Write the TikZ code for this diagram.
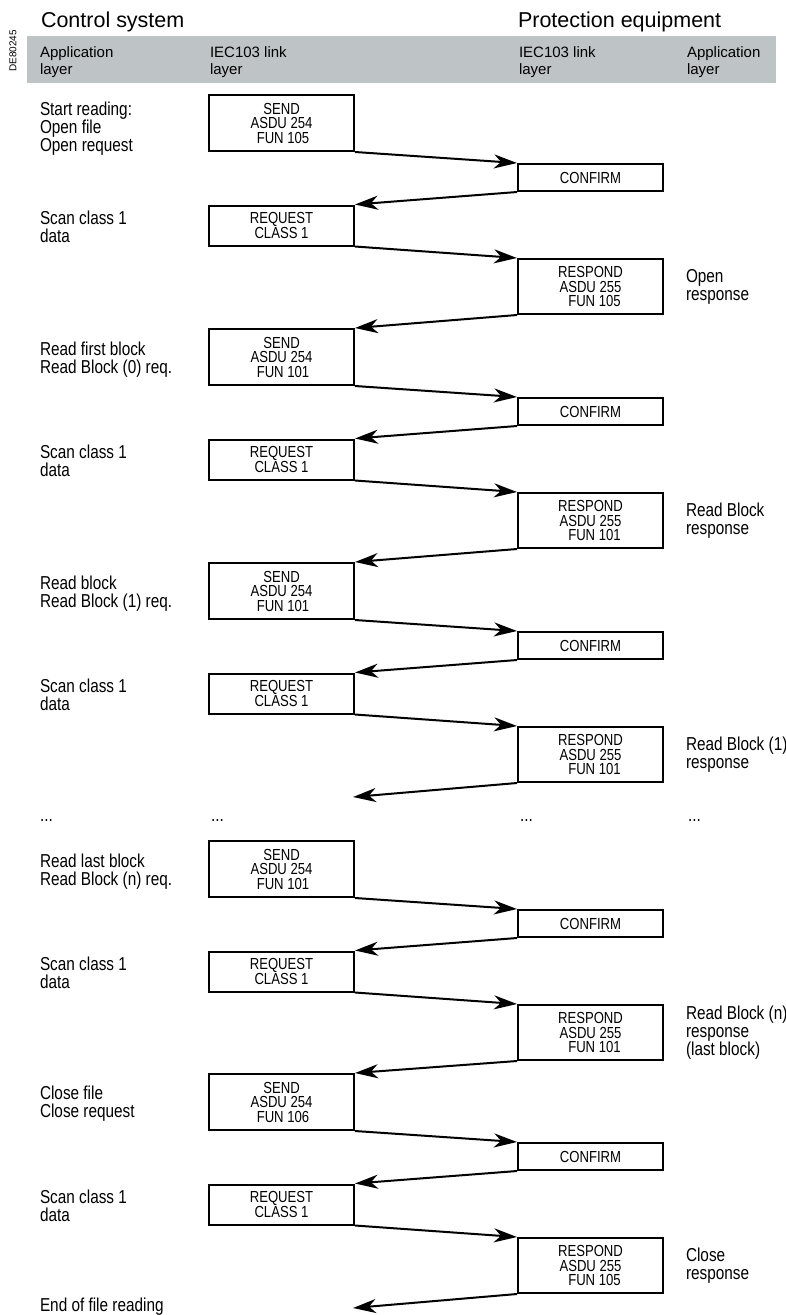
\documentclass[tikz,border=0pt]{standalone}
\usepackage{fontspec}
\setmainfont{Liberation Sans}
\newfontfamily\narrowsans{Liberation Sans}[FakeStretch=0.82]
\usepackage{tikz}
\usetikzlibrary{arrows.meta, positioning}
\setlength{\lineskiplimit}{-20pt}
\newcommand{\msgtxt}{\narrowsans\fontsize{16}{14.5}\selectfont}
\newcommand{\steptxt}{\narrowsans\fontsize{18.7}{18}\selectfont}
\newcommand{\layertxt}{\fontsize{15}{16.7}\selectfont}
\newcommand{\headtxt}{\fontsize{21.5}{24}\selectfont}
\definecolor{bandgray}{RGB}{190,195,198}

\begin{document}
\begin{tikzpicture}[x=1pt, y=-1pt, line width=2pt,
    >={Stealth[length=23pt, width=14pt, inset=7pt]},
    msgbox/.style={draw, line width=2pt, inner sep=0pt, align=center, font=\msgtxt},
    sendbox/.style={msgbox, minimum width=145pt, minimum height=56pt},
    confbox/.style={msgbox, minimum width=145pt, minimum height=27pt},
    reqbox/.style={msgbox, minimum width=145pt, minimum height=40pt},
    respbox/.style={msgbox, minimum width=145pt, minimum height=55pt},
    steplbl/.style={inner sep=0pt, align=left, font=\steptxt},
    layerlbl/.style={inner sep=0pt, align=left, font=\layertxt, anchor=north west},
    syshead/.style={inner sep=0pt, font=\headtxt, anchor=base west}]
\useasboundingbox (0,0) rectangle (786,1315);

% header
\fill[bandgray] (27,36) rectangle (776,83);
\node[syshead] (ctrl) at (40,27) {Control system};
\node[syshead] (prot) at (517,27) {Protection equipment};
\node[layerlbl] (lay1) at (39,46) {Application\\layer};
\node[layerlbl] (lay2) at (209,46) {IEC103 link\\layer};
\node[layerlbl] (lay3) at (518,46) {IEC103 link\\layer};
\node[layerlbl] (lay4) at (686,46) {Application\\layer};
\node[rotate=90, inner sep=0pt, font=\fontsize{10}{12}\selectfont] (code) at (13,51) {DE80245};

% open file
\node[sendbox] (send1) at (281.5,123) {SEND\\ASDU 254\\\hspace*{3pt}FUN 105};
\node[confbox] (conf1) at (590.5,177.5) {CONFIRM};
\node[reqbox] (req1) at (281.5,225.5) {REQUEST\\CLASS 1};
\node[respbox] (resp1) at (590.5,286.5) {RESPOND\\ASDU 255\\\hspace*{8pt}FUN 105};
\node[steplbl, anchor=west] (s1) at (39,129) {Start reading:\\Open file\\Open request};
\node[steplbl, anchor=west] (q1) at (39,226.5) {Scan class 1\\data};
\node[steplbl, right=21pt of resp1] (r1) {Open\\response};
\draw[->] (send1.south east) -- (conf1.north west);
\draw[->] (conf1.south west) -- (req1.north east);
\draw[->] (req1.south east) -- (resp1.north west);

% first block
\node[sendbox] (send2) at (281.5,357) {SEND\\ASDU 254\\\hspace*{3pt}FUN 101};
\node[confbox] (conf2) at (590.5,411.5) {CONFIRM};
\node[reqbox] (req2) at (281.5,459.5) {REQUEST\\CLASS 1};
\node[respbox] (resp2) at (590.5,520.5) {RESPOND\\ASDU 255\\\hspace*{8pt}FUN 101};
\node[steplbl, anchor=west] (s2) at (39,359.5) {Read first block\\Read Block (0) req.};
\node[steplbl, anchor=west] (q2) at (39,460.5) {Scan class 1\\data};
\node[steplbl, right=21pt of resp2] (r2) {Read Block\\response};
\draw[->] (resp1.south west) -- (send2.north east);
\draw[->] (send2.south east) -- (conf2.north west);
\draw[->] (conf2.south west) -- (req2.north east);
\draw[->] (req2.south east) -- (resp2.north west);

% next block
\node[sendbox] (send3) at (281.5,591) {SEND\\ASDU 254\\\hspace*{3pt}FUN 101};
\node[confbox] (conf3) at (590.5,645.5) {CONFIRM};
\node[reqbox] (req3) at (281.5,693.5) {REQUEST\\CLASS 1};
\node[respbox] (resp3) at (590.5,754.5) {RESPOND\\ASDU 255\\\hspace*{8pt}FUN 101};
\node[steplbl, anchor=west] (s3) at (39,593.5) {Read block\\Read Block (1) req.};
\node[steplbl, anchor=west] (q3) at (39,694.5) {Scan class 1\\data};
\node[steplbl, right=21pt of resp3] (r3) {Read Block (1)\\response};
\coordinate (end3) at (353,797);
\draw[->] (resp2.south west) -- (send3.north east);
\draw[->] (send3.south east) -- (conf3.north west);
\draw[->] (conf3.south west) -- (req3.north east);
\draw[->] (req3.south east) -- (resp3.north west);
\draw[->] (resp3.south west) -- (end3);

% gap
\node[steplbl, anchor=west] (dots1) at (39,820) {...};
\node[steplbl, anchor=west] (dots2) at (210,820) {...};
\node[steplbl, anchor=west] (dots3) at (519,820) {...};
\node[steplbl, anchor=west] (dots4) at (687,820) {...};

% last block
\node[sendbox] (send4) at (281.5,869) {SEND\\ASDU 254\\\hspace*{3pt}FUN 101};
\node[confbox] (conf4) at (590.5,923.5) {CONFIRM};
\node[reqbox] (req4) at (281.5,971.5) {REQUEST\\CLASS 1};
\node[respbox] (resp4) at (590.5,1032.5) {RESPOND\\ASDU 255\\\hspace*{8pt}FUN 101};
\node[steplbl, anchor=west] (s4) at (39,871.5) {Read last block\\Read Block (n) req.};
\node[steplbl, anchor=west] (q4) at (39,972.5) {Scan class 1\\data};
\node[steplbl, right=21pt of resp4] (r4) {Read Block (n)\\response\\(last block)};
\draw[->] (send4.south east) -- (conf4.north west);
\draw[->] (conf4.south west) -- (req4.north east);
\draw[->] (req4.south east) -- (resp4.north west);

% close file
\node[sendbox] (send5) at (281.5,1102) {SEND\\ASDU 254\\\hspace*{3pt}FUN 106};
\node[confbox] (conf5) at (590.5,1156.5) {CONFIRM};
\node[reqbox] (req5) at (281.5,1204.5) {REQUEST\\CLASS 1};
\node[respbox] (resp5) at (590.5,1265.5) {RESPOND\\ASDU 255\\\hspace*{8pt}FUN 105};
\node[steplbl, anchor=west] (s5) at (39,1104) {Close file\\Close request};
\node[steplbl, anchor=west] (q5) at (39,1205.5) {Scan class 1\\data};
\node[steplbl, right=21pt of resp5] (r5) {Close\\response};
\coordinate (end5) at (353,1308);
\node[steplbl, anchor=west] (fin) at (39,1307) {End of file reading};
\draw[->] (resp4.south west) -- (send5.north east);
\draw[->] (send5.south east) -- (conf5.north west);
\draw[->] (conf5.south west) -- (req5.north east);
\draw[->] (req5.south east) -- (resp5.north west);
\draw[->] (resp5.south west) -- (end5);
\end{tikzpicture}
\end{document}
